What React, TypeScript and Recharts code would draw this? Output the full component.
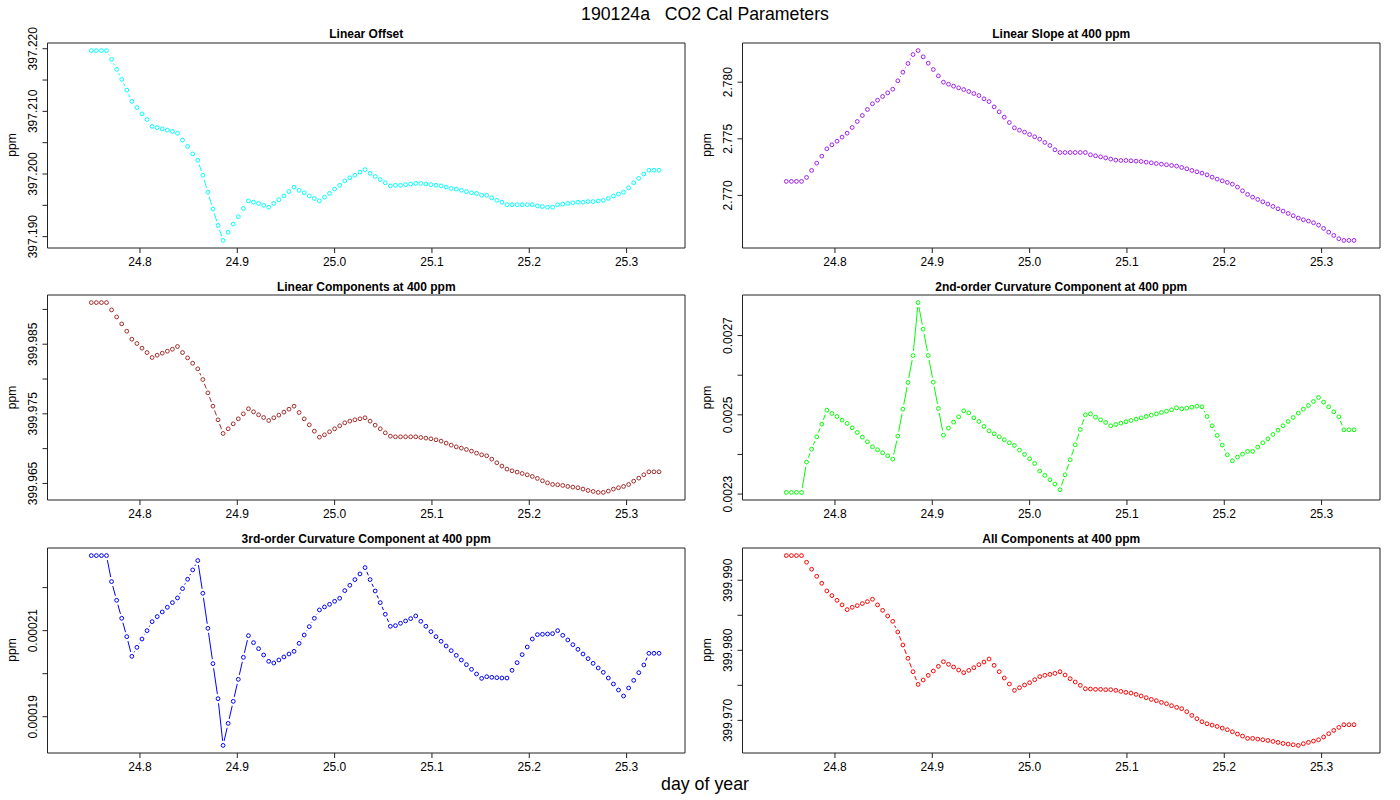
import React from 'react';
import { LineChart, Line, XAxis, YAxis, ReferenceArea } from 'recharts';

// sampling grid: one record every 7.5 minutes, day 24.75 .. 25.333
const dayStart = 24.75;
const dayStep = 1 / 192;
const dayTicks = [24.8, 24.9, 25.0, 25.1, 25.2, 25.3];
const dayDomain: [number, number] = [24.705, 25.36];

const linearOffset = [
  397.2197, 397.2197, 397.2197, 397.2197, 397.2183, 397.2167, 397.2151, 397.2134, 397.2116, 397.2106,
  397.2096, 397.2087, 397.2076, 397.2074, 397.2072, 397.2070, 397.2068, 397.2065, 397.2054, 397.2044,
  397.2032, 397.2022, 397.1998, 397.1971, 397.1944, 397.1918, 397.1894, 397.1907, 397.1920, 397.1932,
  397.1945, 397.1957, 397.1955, 397.1953, 397.1950, 397.1947, 397.1953, 397.1959, 397.1965, 397.1972,
  397.1979, 397.1974, 397.1970, 397.1965, 397.1961, 397.1957, 397.1963, 397.1969, 397.1976, 397.1982,
  397.1989, 397.1994, 397.1998, 397.2003, 397.2007, 397.2001, 397.1996, 397.1991, 397.1986, 397.1981,
  397.1982, 397.1982, 397.1983, 397.1984, 397.1985, 397.1985, 397.1984, 397.1983, 397.1982, 397.1981,
  397.1979, 397.1977, 397.1976, 397.1974, 397.1972, 397.1970, 397.1969, 397.1966, 397.1966, 397.1962,
  397.1958, 397.1955, 397.1951, 397.1951, 397.1951, 397.1951, 397.1951, 397.1951, 397.1949, 397.1948,
  397.1947, 397.1947, 397.1951, 397.1952, 397.1953, 397.1954, 397.1955, 397.1955, 397.1956, 397.1956,
  397.1957, 397.1958, 397.1961, 397.1965, 397.1968, 397.1971, 397.1978, 397.1986, 397.1993, 397.2000,
  397.2006, 397.2006, 397.2006,
];

const linearSlope = [
  2.77124, 2.77124, 2.77124, 2.77124, 2.77159, 2.77221, 2.77285, 2.77347, 2.77412, 2.77447,
  2.77479, 2.77515, 2.77550, 2.77600, 2.77653, 2.77706, 2.77759, 2.77809, 2.77841, 2.77874,
  2.77906, 2.77938, 2.78012, 2.78088, 2.78165, 2.78244, 2.78279, 2.78224, 2.78168, 2.78112,
  2.78056, 2.78000, 2.77982, 2.77965, 2.77950, 2.77935, 2.77918, 2.77900, 2.77882, 2.77853,
  2.77829, 2.77782, 2.77738, 2.77691, 2.77644, 2.77597, 2.77576, 2.77559, 2.77538, 2.77518,
  2.77497, 2.77468, 2.77441, 2.77403, 2.77379, 2.77379, 2.77379, 2.77379, 2.77379, 2.77379,
  2.77359, 2.77350, 2.77341, 2.77332, 2.77321, 2.77312, 2.77309, 2.77309, 2.77306, 2.77303,
  2.77300, 2.77294, 2.77288, 2.77282, 2.77276, 2.77271, 2.77265, 2.77259, 2.77247, 2.77235,
  2.77221, 2.77209, 2.77197, 2.77182, 2.77162, 2.77144, 2.77129, 2.77115, 2.77100, 2.77074,
  2.77041, 2.77009, 2.76985, 2.76965, 2.76944, 2.76924, 2.76903, 2.76882, 2.76862, 2.76841,
  2.76821, 2.76800, 2.76785, 2.76774, 2.76759, 2.76738, 2.76709, 2.76676, 2.76647, 2.76618,
  2.76603, 2.76603, 2.76603,
];

const linearComponents = [
  399.99098, 399.99098, 399.99098, 399.99098, 399.98993, 399.98892, 399.98792, 399.98687, 399.98572, 399.98510,
  399.98443, 399.98380, 399.98309, 399.98342, 399.98371, 399.98400, 399.98428, 399.98467, 399.98380, 399.98304,
  399.98227, 399.98146, 399.97993, 399.97801, 399.97610, 399.97414, 399.97218, 399.97285, 399.97356, 399.97428,
  399.97500, 399.97572, 399.97529, 399.97486, 399.97447, 399.97404, 399.97443, 399.97481, 399.97524, 399.97567,
  399.97610, 399.97519, 399.97428, 399.97342, 399.97251, 399.97165, 399.97198, 399.97242, 399.97285, 399.97328,
  399.97371, 399.97395, 399.97414, 399.97428, 399.97443, 399.97395, 399.97337, 399.97285, 399.97227, 399.97179,
  399.97170, 399.97170, 399.97170, 399.97170, 399.97170, 399.97160, 399.97151, 399.97141, 399.97127, 399.97108,
  399.97079, 399.97050, 399.97026, 399.97007, 399.96988, 399.96964, 399.96935, 399.96911, 399.96897, 399.96849,
  399.96797, 399.96749, 399.96706, 399.96682, 399.96663, 399.96643, 399.96624, 399.96600, 399.96572, 399.96538,
  399.96509, 399.96485, 399.96481, 399.96471, 399.96457, 399.96447, 399.96438, 399.96419, 399.96399, 399.96385,
  399.96371, 399.96371, 399.96390, 399.96419, 399.96438, 399.96457, 399.96485, 399.96533, 399.96576, 399.96624,
  399.96667, 399.96667, 399.96667,
];

const curvature2 = [
  0.0023042, 0.0023042, 0.0023042, 0.0023042, 0.0023807, 0.0024134, 0.0024445, 0.0024765, 0.0025118, 0.0025034,
  0.0024958, 0.0024866, 0.0024782, 0.0024672, 0.0024555, 0.0024437, 0.0024319, 0.0024193, 0.0024118, 0.0024042,
  0.0023966, 0.0023882, 0.0024462, 0.0025143, 0.0025815, 0.0026496, 0.0027832, 0.0027160, 0.0026496, 0.0025824,
  0.0025160, 0.0024487, 0.0024664, 0.0024815, 0.0024950, 0.0025101, 0.0025050, 0.0024924, 0.0024832, 0.0024706,
  0.0024597, 0.0024521, 0.0024445, 0.0024370, 0.0024294, 0.0024227, 0.0024109, 0.0024000, 0.0023891, 0.0023773,
  0.0023580, 0.0023471, 0.0023361, 0.0023252, 0.0023109, 0.0023487, 0.0023866, 0.0024244, 0.0024630, 0.0025000,
  0.0025025, 0.0024941, 0.0024874, 0.0024807, 0.0024723, 0.0024756, 0.0024790, 0.0024824, 0.0024857, 0.0024891,
  0.0024924, 0.0024958, 0.0024992, 0.0025025, 0.0025059, 0.0025092, 0.0025126, 0.0025176, 0.0025151, 0.0025168,
  0.0025193, 0.0025218, 0.0025202, 0.0024958, 0.0024723, 0.0024479, 0.0024235, 0.0023992, 0.0023840, 0.0023933,
  0.0024008, 0.0024076, 0.0024076, 0.0024185, 0.0024294, 0.0024395, 0.0024504, 0.0024613, 0.0024723, 0.0024832,
  0.0024933, 0.0025042, 0.0025143, 0.0025235, 0.0025336, 0.0025437, 0.0025319, 0.0025202, 0.0025076, 0.0024950,
  0.0024622, 0.0024622, 0.0024622,
];

const curvature3 = [
  0.00022744, 0.00022744, 0.00022744, 0.00022744, 0.00022140, 0.00021705, 0.00021287, 0.00020860, 0.00020403, 0.00020612,
  0.00020806, 0.00021000, 0.00021209, 0.00021326, 0.00021434, 0.00021543, 0.00021651, 0.00021760, 0.00021977, 0.00022194,
  0.00022411, 0.00022628, 0.00021868, 0.00021054, 0.00020233, 0.00019419, 0.00018333, 0.00018845, 0.00019357, 0.00019868,
  0.00020380, 0.00020884, 0.00020721, 0.00020581, 0.00020434, 0.00020287, 0.00020248, 0.00020318, 0.00020388, 0.00020457,
  0.00020519, 0.00020705, 0.00020899, 0.00021093, 0.00021287, 0.00021481, 0.00021550, 0.00021612, 0.00021682, 0.00021752,
  0.00021930, 0.00022054, 0.00022186, 0.00022318, 0.00022465, 0.00022186, 0.00021922, 0.00021651, 0.00021380, 0.00021101,
  0.00021116, 0.00021171, 0.00021225, 0.00021279, 0.00021341, 0.00021217, 0.00021101, 0.00020977, 0.00020860, 0.00020752,
  0.00020643, 0.00020535, 0.00020426, 0.00020318, 0.00020209, 0.00020101, 0.00019992, 0.00019891, 0.00019930, 0.00019915,
  0.00019907, 0.00019899, 0.00019899, 0.00020078, 0.00020256, 0.00020442, 0.00020620, 0.00020806, 0.00020907, 0.00020915,
  0.00020922, 0.00020930, 0.00021000, 0.00020891, 0.00020783, 0.00020674, 0.00020566, 0.00020457, 0.00020349, 0.00020240,
  0.00020132, 0.00020031, 0.00019899, 0.00019760, 0.00019620, 0.00019481, 0.00019667, 0.00019845, 0.00020023, 0.00020202,
  0.00020473, 0.00020473, 0.00020473,
];

const allComponents = [
  399.99352, 399.99352, 399.99352, 399.99352, 399.99257, 399.99157, 399.99057, 399.98957, 399.98848, 399.98781,
  399.98714, 399.98648, 399.98581, 399.98614, 399.98638, 399.98667, 399.98695, 399.98729, 399.98648, 399.98571,
  399.98490, 399.98414, 399.98262, 399.98076, 399.97886, 399.97695, 399.97514, 399.97576, 399.97643, 399.97705,
  399.97771, 399.97838, 399.97800, 399.97762, 399.97719, 399.97681, 399.97714, 399.97752, 399.97795, 399.97833,
  399.97876, 399.97786, 399.97695, 399.97605, 399.97519, 399.97429, 399.97467, 399.97505, 399.97538, 399.97581,
  399.97624, 399.97643, 399.97657, 399.97671, 399.97695, 399.97648, 399.97595, 399.97548, 399.97500, 399.97452,
  399.97448, 399.97443, 399.97443, 399.97438, 399.97438, 399.97429, 399.97414, 399.97400, 399.97390, 399.97371,
  399.97348, 399.97324, 399.97300, 399.97281, 399.97257, 399.97238, 399.97210, 399.97186, 399.97167, 399.97124,
  399.97071, 399.97024, 399.96981, 399.96952, 399.96933, 399.96914, 399.96890, 399.96867, 399.96838, 399.96805,
  399.96776, 399.96743, 399.96743, 399.96733, 399.96724, 399.96714, 399.96700, 399.96686, 399.96671, 399.96662,
  399.96652, 399.96643, 399.96667, 399.96686, 399.96705, 399.96724, 399.96762, 399.96810, 399.96857, 399.96900,
  399.96938, 399.96938, 399.96938,
];

// y ticks and their labels ('' = tick mark only, R drops overlapping labels)
const offsetTicks = [397.19, 397.195, 397.2, 397.205, 397.21, 397.215, 397.22];
const offsetLabels = ['397.190', '', '397.200', '', '397.210', '', '397.220'];
const slopeTicks = [2.77, 2.775, 2.78];
const slopeLabels = ['2.770', '2.775', '2.780'];
const linCompTicks = [399.965, 399.97, 399.975, 399.98, 399.985, 399.99];
const linCompLabels = ['399.965', '', '399.975', '', '399.985', ''];
const curv2Ticks = [0.0023, 0.0024, 0.0025, 0.0026, 0.0027];
const curv2Labels = ['0.0023', '', '0.0025', '', '0.0027'];
const curv3Ticks = [0.00019, 0.0002, 0.00021, 0.00022];
const curv3Labels = ['0.00019', '', '0.00021', ''];
const allTicks = [399.97, 399.975, 399.98, 399.985, 399.99];
const allLabels = ['399.970', '', '399.980', '', '399.990'];

const FONT = '"Liberation Sans", Arial, Helvetica, sans-serif';
const COL_W = 695;
const ROW_H = 252.5;
const TOP0 = 22.5;
const Y_AXIS_W = 47.5;
const MARGIN_TOP = 20;
const MARGIN_RIGHT = 10;
const X_AXIS_H = 28;
const CHART_H = 253;
const BOX_W = COL_W - Y_AXIS_W - MARGIN_RIGHT;
const BOX_H = CHART_H - MARGIN_TOP - X_AXIS_H;
const DOT_R = 1.9;
const LINE_GAP = 4.6; // type="b": segments stop short of each point

interface PanelSpec {
  title: string;
  values: number[];
  color: string;
  ticks: number[];
  labels: string[];
  col: number;
  row: number;
}

const panels: PanelSpec[] = [
  { title: 'Linear Offset', values: linearOffset, color: '#00FFFF', ticks: offsetTicks, labels: offsetLabels, col: 0, row: 0 },
  { title: 'Linear Slope at 400 ppm', values: linearSlope, color: '#A020F0', ticks: slopeTicks, labels: slopeLabels, col: 1, row: 0 },
  { title: 'Linear Components at 400 ppm', values: linearComponents, color: '#A52A2A', ticks: linCompTicks, labels: linCompLabels, col: 0, row: 1 },
  { title: '2nd-order Curvature Component at 400 ppm', values: curvature2, color: '#00FF00', ticks: curv2Ticks, labels: curv2Labels, col: 1, row: 1 },
  { title: '3rd-order Curvature Component at 400 ppm', values: curvature3, color: '#0000FF', ticks: curv3Ticks, labels: curv3Labels, col: 0, row: 2 },
  { title: 'All Components at 400 ppm', values: allComponents, color: '#FF0000', ticks: allTicks, labels: allLabels, col: 1, row: 2 },
];

function paddedDomain(values: number[]): [number, number] {
  const lo = Math.min(...values);
  const hi = Math.max(...values);
  const pad = (hi - lo) * 0.04;
  return [lo - pad, hi + pad];
}

function makeYTick(ticks: number[], labels: string[]) {
  return (props: any) => {
    const { x, y, payload } = props;
    const i = ticks.findIndex((t) => Math.abs(t - payload.value) <= 1e-9 * Math.abs(t));
    const label = i >= 0 ? labels[i] : '';
    if (!label) return <g />;
    return (
      <text
        x={x}
        y={y}
        transform={`rotate(-90 ${x} ${y})`}
        textAnchor="middle"
        fontSize={12}
        fontFamily={FONT}
        fill="#000"
      >
        {label}
      </text>
    );
  };
}

// open circle plus a gapped segment back to the previous point, like R's type="b"
function makeDot(color: string) {
  const prev: Array<[number, number]> = [];
  return (props: any) => {
    const { cx, cy, index } = props;
    prev[index] = [cx, cy];
    let seg: React.ReactNode = null;
    const p = index > 0 ? prev[index - 1] : undefined;
    if (p) {
      const dx = cx - p[0];
      const dy = cy - p[1];
      const len = Math.hypot(dx, dy);
      if (len > 2 * LINE_GAP) {
        const ux = dx / len;
        const uy = dy / len;
        seg = (
          <line
            x1={p[0] + ux * LINE_GAP}
            y1={p[1] + uy * LINE_GAP}
            x2={cx - ux * LINE_GAP}
            y2={cy - uy * LINE_GAP}
            stroke={color}
            strokeWidth={1}
          />
        );
      }
    }
    return (
      <g key={`dot-${index}`}>
        {seg}
        <circle cx={cx} cy={cy} r={DOT_R} fill="none" stroke={color} strokeWidth={1} />
      </g>
    );
  };
}

function Panel({ spec }: { spec: PanelSpec }) {
  const data = spec.values.map((v, i) => ({ day: dayStart + i * dayStep, v }));
  const yDomain = paddedDomain(spec.values);
  return (
    <div style={{ position: 'absolute', left: spec.col * COL_W, top: TOP0 + spec.row * ROW_H }}>
      <LineChart
        width={COL_W}
        height={CHART_H}
        data={data}
        margin={{ top: MARGIN_TOP, right: MARGIN_RIGHT, bottom: 0, left: 0 }}
      >
        <XAxis
          dataKey="day"
          type="number"
          domain={dayDomain}
          ticks={dayTicks}
          interval={0}
          height={X_AXIS_H}
          tickFormatter={(d: number) => d.toFixed(1)}
          tick={{ fontSize: 12, fill: '#000', fontFamily: FONT }}
          tickSize={5}
          tickMargin={4}
          tickLine={{ stroke: '#222' }}
          axisLine={false}
        />
        <YAxis
          type="number"
          domain={yDomain}
          ticks={spec.ticks}
          interval={0}
          width={Y_AXIS_W}
          tick={makeYTick(spec.ticks, spec.labels)}
          tickSize={5}
          tickMargin={5}
          tickLine={{ stroke: '#222' }}
          axisLine={false}
        />
        <ReferenceArea
          x1={dayDomain[0]}
          x2={dayDomain[1]}
          y1={yDomain[0]}
          y2={yDomain[1]}
          fill="none"
          stroke="#222"
          strokeWidth={1}
          ifOverflow="visible"
        />
        <Line
          type="linear"
          dataKey="v"
          stroke="none"
          dot={makeDot(spec.color)}
          activeDot={false}
          isAnimationActive={false}
        />
      </LineChart>
    </div>
  );
}

export default function App() {
  return (
    <div
      style={{
        position: 'absolute',
        left: 0,
        top: 0,
        width: 1400,
        height: 800,
        background: '#fff',
        overflow: 'hidden',
      }}
    >
      {panels.map((p) => (
        <Panel key={p.title} spec={p} />
      ))}
      <svg
        width={1400}
        height={800}
        style={{ position: 'absolute', left: 0, top: 0, pointerEvents: 'none' }}
        fontFamily={FONT}
      >
        <text x={705} y={20} textAnchor="middle" fontSize={17.7} fill="#000" style={{ whiteSpace: 'pre' }}>
          {'190124a   CO2 Cal Parameters'}
        </text>
        <text x={705} y={790} textAnchor="middle" fontSize={17.8} fill="#000">
          day of year
        </text>
        {panels.map((p) => {
          const left = p.col * COL_W;
          const boxTop = TOP0 + p.row * ROW_H + MARGIN_TOP;
          const cx = left + Y_AXIS_W + BOX_W / 2;
          const cy = boxTop + BOX_H / 2;
          const px = left + 15.5;
          return (
            <g key={p.title}>
              <text x={cx} y={boxTop - 4.5} textAnchor="middle" fontSize={12} fontWeight="bold" fill="#000">
                {p.title}
              </text>
              <text
                x={px}
                y={cy}
                transform={`rotate(-90 ${px} ${cy})`}
                textAnchor="middle"
                fontSize={12}
                fill="#000"
              >
                ppm
              </text>
            </g>
          );
        })}
      </svg>
    </div>
  );
}
